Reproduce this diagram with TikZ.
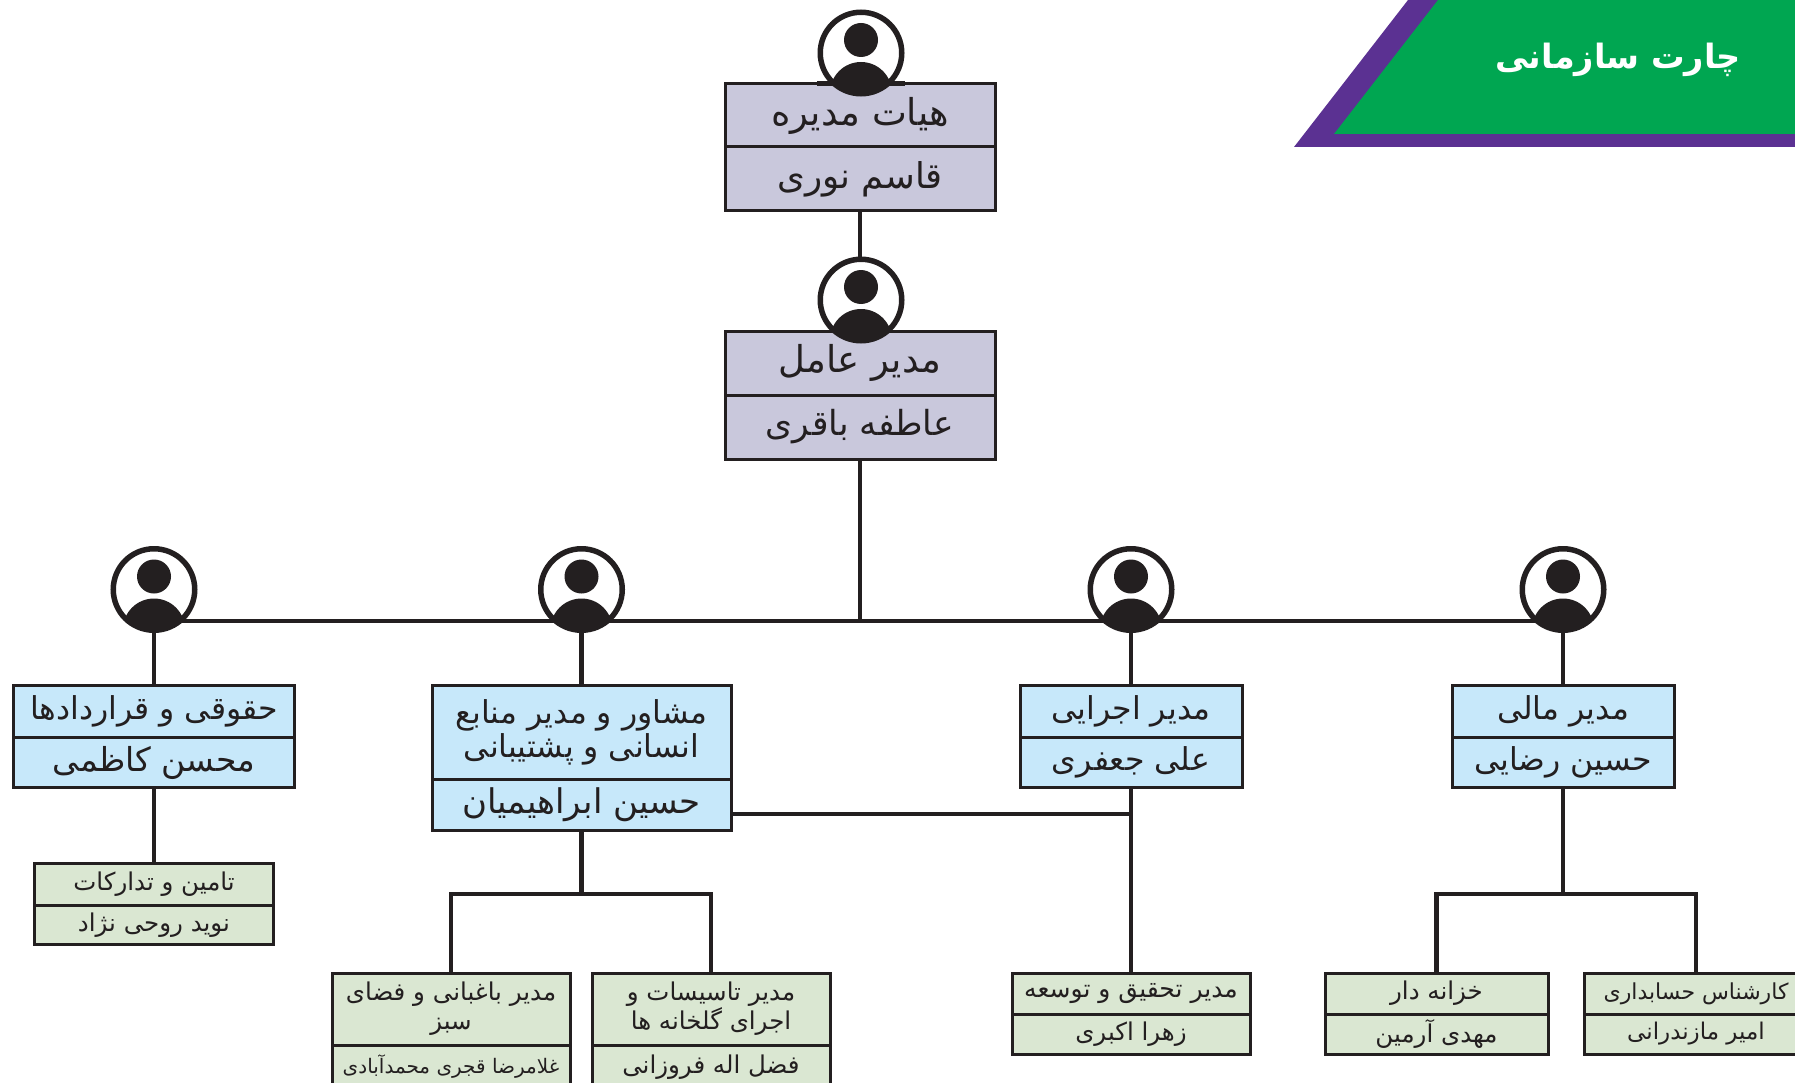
\documentclass[tikz,border=0pt]{standalone}
\usepackage{fontspec}
\newfontfamily\arabicfont[Script=Arabic]{DejaVu Sans}
\TeXXeTstate=1
\usetikzlibrary{positioning}
\definecolor{ink}{HTML}{231F20}
\definecolor{lilac}{HTML}{C9C8DC}
\definecolor{sky}{HTML}{C7E8FA}
\definecolor{sage}{HTML}{DAE7D2}
\definecolor{bannergreen}{HTML}{00A651}
\definecolor{bannerpurple}{HTML}{5B3192}
\newcommand{\fa}[1]{{\arabicfont\beginR #1\endR}}
\tikzset{
    orgbox/.style={% fill, draw + rectangle
        draw=ink, line width=3pt, fill=#1, rectangle, inner sep=0pt, text=ink, align=center},
    sized/.style args={#1 by #2}{% measurements of a box
        minimum width=#1pt, minimum height=#2pt},
    topfont/.style={font=\fontsize{37}{40}\selectfont},
    midfont/.style={font=\fontsize{31.5}{34}\selectfont},
    lowfont/.style={font=\fontsize{24.5}{29}\selectfont},
    link/.style={draw=ink, line width=4.3pt},
    face/.style={circle, draw=ink, line width=5.5pt, fill=white, minimum size=81.5pt, inner sep=0pt},
    pics/person/.style={code={
        \clip (0,0) circle (40pt);
        \fill[ink] (0,-13) circle (17pt);
        \fill[ink] (0,40) circle (31pt);
    }}
}
\begin{document}
\begin{tikzpicture}[x=1pt,y=-1pt]
\useasboundingbox (0,0) rectangle (1795,1083);
\clip (0,0) rectangle (1795,1083);
% banner
\fill[bannerpurple] (1294,147) -- (1408,0) -- (1795,0) -- (1795,147) -- cycle;
\fill[bannergreen] (1334,134) -- (1438,0) -- (1795,0) -- (1795,134) -- cycle;
\node[text=white, font=\fontsize{33.5}{40}\selectfont\bfseries] at (1618,60) (title) {\fa{چارت سازمانی}};
% free ends of the connectors
\coordinate (busleft) at (154,621);
\coordinate (busright) at (1563,621);
\coordinate (bushub) at (860,621);
\coordinate (hrsplit) at (581.5,894);
\coordinate (financesplit) at (1563,894);
\coordinate (execjoin) at (1131,814);
% board and manager
\node[orgbox=lilac, sized=270 by 63, topfont] at (860,115.5) (boardrole) {\fa{هیات مدیره}};
\node[orgbox=lilac, sized=270 by 64, font=\fontsize{35.5}{40}\selectfont] at (860,179) (boardname) {\fa{قاسم نوری}};
\node[orgbox=lilac, sized=270 by 64, topfont] at (860,363) (ceorole) {\fa{مدیر عامل}};
\node[orgbox=lilac, sized=270 by 64, font=\fontsize{34.5}{40}\selectfont] at (860,427) (ceoname) {\fa{عاطفه باقری}};
% second row
\node[orgbox=sky, sized=281 by 52, midfont] at (154,711.5) (legalrole) {\fa{حقوقی و قراردادها}};
\node[orgbox=sky, sized=281 by 50, font=\fontsize{33}{34}\selectfont] at (154,762.5) (legalname) {\fa{محسن کاظمی}};
\node[orgbox=sky, sized=299 by 94, midfont] at (581.5,732.5) (hrrole) {\fa{مشاور و مدیر منابع}\\\fa{انسانی و پشتیبانی}};
\node[orgbox=sky, sized=299 by 51, font=\fontsize{34}{34}\selectfont] at (581.5,805) (hrname) {\fa{حسین ابراهیمیان}};
\node[orgbox=sky, sized=222 by 52, midfont] at (1131,711.5) (execrole) {\fa{مدیر اجرایی}};
\node[orgbox=sky, sized=222 by 50, midfont] at (1131,762.5) (execname) {\fa{علی جعفری}};
\node[orgbox=sky, sized=222 by 52, midfont] at (1563,711.5) (financerole) {\fa{مدیر مالی}};
\node[orgbox=sky, sized=222 by 50, midfont] at (1563,762.5) (financename) {\fa{حسین رضایی}};
% third row
\node[orgbox=sage, sized=239 by 42, lowfont] at (154,884.5) (supplyrole) {\fa{تامین و تدارکات}};
\node[orgbox=sage, sized=239 by 39, lowfont] at (154,925) (supplyname) {\fa{نوید روحی نژاد}};
\node[orgbox=sage, sized=238 by 72, lowfont] at (451,1009) (gardenrole) {\fa{مدیر باغبانی و فضای}\\\fa{سبز}};
\node[orgbox=sage, sized=238 by 44, font=\fontsize{20}{24}\selectfont] at (451,1067) (gardenname) {\fa{غلامرضا قجری محمدآبادی}};
\node[orgbox=sage, sized=238 by 72, lowfont] at (711,1009) (plantrole) {\fa{مدیر تاسیسات و}\\\fa{اجرای گلخانه ها}};
\node[orgbox=sage, sized=238 by 44, lowfont] at (711,1067) (plantname) {\fa{فضل اله فروزانی}};
\node[orgbox=sage, sized=238 by 41, font=\fontsize{25}{29}\selectfont] at (1131,993.5) (techrole) {\fa{مدیر تحقیق و توسعه}};
\node[orgbox=sage, sized=238 by 40, lowfont] at (1131,1034) (techname) {\fa{زهرا اکبری}};
\node[orgbox=sage, sized=223 by 41, lowfont] at (1436.5,993.5) (treasurerole) {\fa{خزانه دار}};
\node[orgbox=sage, sized=223 by 40, lowfont] at (1436.5,1034) (treasurename) {\fa{مهدی آرمین}};
\node[orgbox=sage, sized=224 by 41, font=\fontsize{22}{29}\selectfont] at (1696,993.5) (accountrole) {\fa{کارشناس حسابداری}};
\node[orgbox=sage, sized=224 by 40, font=\fontsize{23}{29}\selectfont] at (1696,1034) (accountname) {\fa{امیر مازندرانی}};
% connectors
\draw[link] (boardname.south) -- (ceorole.north);
\draw[link] (ceoname.south) -- (bushub);
\draw[link] (busleft) -- (busright);
\draw[link] (busleft) -- (legalrole.north);
\draw[link] (hrrole.north |- bushub) -- (hrrole.north);
\draw[link] (execrole.north |- bushub) -- (execrole.north);
\draw[link] (busright) -- (financerole.north);
\draw[link] (legalname.south) -- (supplyrole.north);
\draw[link] (hrname.south) -- (hrsplit);
\draw[link] (gardenrole.north) |- (hrsplit) -| (plantrole.north);
\draw[link] (hrname.east |- execjoin) -- (execjoin);
\draw[link] (execname.south) -- (techrole.north);
\draw[link] (financename.south) -- (financesplit);
\draw[link] (treasurerole.north) |- (financesplit) -| (accountrole.north);
% faces
\draw[ink, line width=5pt] (817,84) -- (905,84);
\node[face] at (861,53) (boardface) {};
\node[face] at (861,300) (ceoface) {};
\node[face] at (154,589.5) (legalface) {};
\node[face] at (581.5,589.5) (hrface) {};
\node[face] at (1131,589.5) (execface) {};
\node[face] at (1563,589.5) (financeface) {};
\foreach \who in {boardface,ceoface,legalface,hrface,execface,financeface}
    \pic at (\who) {person};
\end{tikzpicture}
\end{document}
